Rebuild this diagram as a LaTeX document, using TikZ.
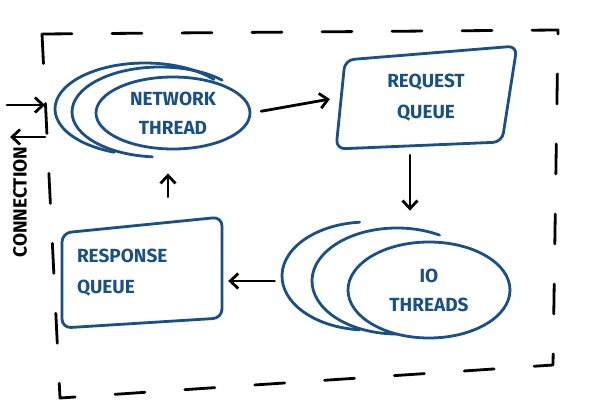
\documentclass[tikz,border=0pt]{standalone}
\usepackage{fontspec}
\usepackage{tikz}
\usetikzlibrary{arrows.meta,shapes.geometric}
\newfontfamily\sketchfont{Fira Sans}
\definecolor{skblue}{RGB}{24,80,135}
\tikzset{
  pen/.style={line width=2.8pt, line cap=round, line join=round},
  bluepen/.style={pen, draw=skblue},
  thread/.style={bluepen, ellipse, fill=white, align=center, text=skblue, inner sep=0pt, font=\sketchfont\bfseries\fontsize{19}{29}\selectfont},
  queue/.style={rectangle, align=center, text=skblue, inner sep=0pt, font=\sketchfont\bfseries\fontsize{19}{31}\selectfont},
  qline/.style={bluepen, rounded corners=9pt},
  conn/.style={font=\sketchfont\bfseries\fontsize{19}{21}\selectfont},
  arr/.style={pen, -{Straight Barb[length=8pt,width=15pt]}},
  frame/.style={pen, dash pattern=on 30pt off 40pt},
}
\begin{document}
\begin{tikzpicture}[x=1pt,y=1pt]
  \useasboundingbox (0,0) rectangle (591,416);
  \draw[frame] (42,382) -- (558,386) -- (553,51) -- (60,18) -- cycle;
  \draw[bluepen] ([shift={(40:90 and 46)}]145,307) arc[start angle=40, end angle=250, x radius=90, y radius=46];
  \draw[bluepen] ([shift={(45:88 and 45)}]160,304) arc[start angle=45, end angle=265, x radius=88, y radius=45];
  \node[thread, minimum width=154pt, minimum height=72pt] (net) at (173,303) {NETWORK\\THREAD};
  \node[queue, minimum width=180pt, minimum height=100pt] (req) at (426,318) {REQUEST\\QUEUE};
  \draw[qline] ([shift={(-81,38)}]req.center) -- ([shift={(91,52)}]req.center) -- ([shift={(76,-44)}]req.center) -- ([shift={(-90,-51)}]req.center) -- cycle;
  \draw[bluepen] ([shift={(95:85 and 54)}]367,140) arc[start angle=95, end angle=265, x radius=85, y radius=54];
  \draw[bluepen] ([shift={(60:85 and 53)}]397,135) arc[start angle=60, end angle=270, x radius=85, y radius=53];
  \node[thread, minimum width=162pt, minimum height=96pt] (io) at (429,126) {IO\\THREADS};
  \node[queue, align=left, text width=130pt, minimum width=160pt, minimum height=100pt] (resp) at (142,143) {RESPONSE\\QUEUE};
  \draw[qline] ([shift={(-80,40)}]resp.center) -- ([shift={(80,56)}]resp.center) -- ([shift={(80,-45)}]resp.center) -- ([shift={(-80,-55)}]resp.center) -- cycle;
  \node[conn, rotate=90] (conn) at (20,214) {CONNECTION};
  \coordinate (inS) at (7,311);
  \coordinate (inE) at (45,311);
  \coordinate (outS) at (45,279);
  \coordinate (outE) at (10,279);
  \draw[arr] (inS) -- (inE);
  \draw[arr] (outS) -- (outE);
  \draw[arr, shorten <=10pt, shorten >=6pt] (net.east) -- (req.west);
  \draw[arr, shorten <=7pt, shorten >=30pt] ([xshift=-16pt]req.south) -- ([xshift=-19pt]io.north);
  \draw[arr, shorten <=72pt, shorten >=6pt] ([yshift=9pt]io.west) -- ([yshift=-8pt]resp.east);
  \draw[arr, shorten <=26pt, shorten >=23pt] ([xshift=26pt]resp.north) -- ([xshift=-5pt]net.south);
\end{tikzpicture}
\end{document}
